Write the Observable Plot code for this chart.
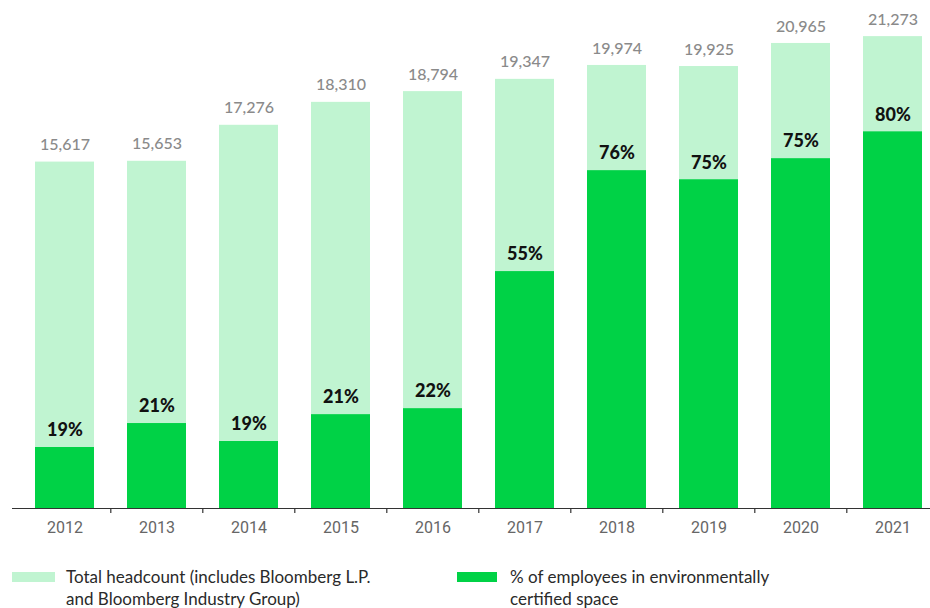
<!DOCTYPE html>
<html>
<head>
<meta charset="utf-8">
<script src="https://cdn.jsdelivr.net/npm/d3@7"></script>
<script src="https://cdn.jsdelivr.net/npm/@observablehq/plot@0.6"></script>
<style>
  html, body { margin: 0; padding: 0; background: #fff; }
  #wrap { width: 930px; position: relative; font-family: Lato, "Liberation Sans", sans-serif; }
  .legend { position: relative; height: 63px; }
  .item { position: absolute; top: 21px; display: flex; align-items: flex-start; }
  .sw { width: 43px; height: 10px; margin-top: 6px; margin-right: 11px; flex: none; }
  .lt { font-size: 17px; line-height: 22px; color: #2a2a2a; }
</style>
</head>
<body>
<div id="wrap"></div>
<script>
const years = ["2012","2013","2014","2015","2016","2017","2018","2019","2020","2021"];
const headcount = [15617, 15653, 17276, 18310, 18794, 19347, 19974, 19925, 20965, 21273];
const certifiedPct = [19, 21, 19, 21, 22, 55, 76, 75, 75, 80];
// employees in certified space, as drawn (bar heights)
const certifiedHeadcount = [2750, 3830, 3020, 4230, 4500, 10680, 15230, 14820, 15770, 16980];

const lightGreen = "#c0f4d1";
const darkGreen = "#00d246";

const rows = years.map((y, i) => ({
  year: y,
  total: headcount[i],
  pct: certifiedPct[i],
  certified: certifiedHeadcount[i]
}));

const chart = Plot.plot({
  width: 930,
  height: 545,
  marginLeft: 12,
  marginRight: 0,
  marginTop: 20,
  marginBottom: 37,
  style: { fontFamily: "Lato, 'Liberation Sans', sans-serif", background: "#fff" },
  x: { type: "band", domain: years, range: [16.4, 940.4], paddingInner: 0.36, paddingOuter: 0.18, axis: null },
  y: { domain: [0, 22000], axis: null },
  marks: [
    Plot.barY(rows, { x: "year", y: "total", fill: lightGreen }),
    Plot.barY(rows, { x: "year", y: "certified", fill: darkGreen }),
    Plot.ruleY([0], { stroke: "#333", strokeWidth: 1.2 }),
    Plot.ruleX(years.slice(1), { x: d => d, y1: 0, y2: -225, dx: -46.2, stroke: "#333", strokeWidth: 1.2 }),
    Plot.axisX({ tickSize: 0, tickPadding: 13, fontSize: 16, fill: "#666", fontWeight: 400, anchor: "bottom", label: null, fontFamily: "Roboto, sans-serif" }),
    Plot.text(rows, { x: "year", y: "total", text: d => d3.format(",")(d.total), dy: -17, fontSize: 16, fill: "#8a8a8a", fontWeight: 500 }),
    Plot.text(rows, { x: "year", y: "certified", text: d => d.pct + "%", dy: -17, fontSize: 18, fill: "#111", fontWeight: 900 })
  ]
});

const wrap = document.getElementById("wrap");
wrap.appendChild(chart);

const legend = document.createElement("div");
legend.className = "legend";
legend.innerHTML = `
  <div class="item" style="left:12px">
    <div class="sw" style="background:${lightGreen}"></div>
    <div class="lt" style="width:330px">Total headcount (includes Bloomberg L.P. and Bloomberg Industry Group)</div>
  </div>
  <div class="item" style="left:457px">
    <div class="sw" style="background:${darkGreen}; width:40px; margin-right:13px"></div>
    <div class="lt" style="width:290px">% of employees in environmentally certified space</div>
  </div>`;
wrap.appendChild(legend);
</script>
</body>
</html>
